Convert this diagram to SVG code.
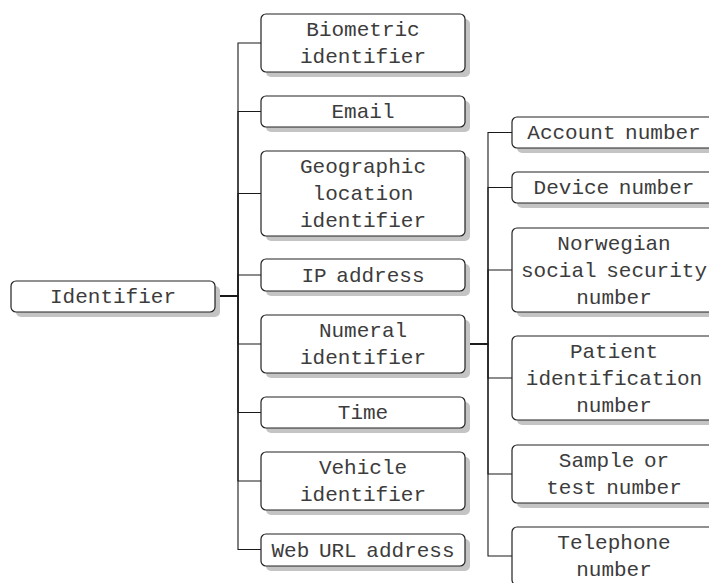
<svg xmlns="http://www.w3.org/2000/svg" width="709" height="583" viewBox="0 0 709 583">
<defs>
<style>
.box{fill:#fff;stroke:#222;stroke-width:1.2}
.sh{fill:#c4c4c4}
.t{font-family:"Liberation Mono","Courier New",monospace;font-size:21px;fill:#3c3c3c;text-anchor:middle;word-spacing:-3px}
.e{fill:none;stroke:#1a1a1a;stroke-width:1.1}
</style>
</defs>
<rect width="709" height="583" fill="#fff"/>
<g id="connectors">
<path class="e" d="M215 296H238V43H261"/>
<path class="e" d="M215 296H238V111.5H261"/>
<path class="e" d="M215 296H238V193.5H261"/>
<path class="e" d="M215 296H238V275H261"/>
<path class="e" d="M215 296H238V344H261"/>
<path class="e" d="M215 296H238V412.5H261"/>
<path class="e" d="M215 296H238V481H261"/>
<path class="e" d="M215 296H238V549.5H261"/>
<path class="e" d="M465 344H488V132.5H512"/>
<path class="e" d="M465 344H488V187.5H512"/>
<path class="e" d="M465 344H488V270H512"/>
<path class="e" d="M465 344H488V378H512"/>
<path class="e" d="M465 344H488V474H512"/>
<path class="e" d="M465 344H488V556H512"/>
</g>
<g id="identifier"><rect class="sh" x="16" y="286" width="204" height="31" rx="5"/><rect class="box" x="11" y="281" width="204" height="31" rx="5"/><text class="t" x="113" y="303">Identifier</text></g>
<g id="biometric"><rect class="sh" x="266" y="19" width="204" height="58" rx="5"/><rect class="box" x="261" y="14" width="204" height="58" rx="5"/><text class="t" x="363" y="36">Biometric</text><text class="t" x="363" y="63">identifier</text></g>
<g id="email"><rect class="sh" x="266" y="101" width="204" height="31" rx="5"/><rect class="box" x="261" y="96" width="204" height="31" rx="5"/><text class="t" x="363" y="118">Email</text></g>
<g id="geographic"><rect class="sh" x="266" y="156" width="204" height="85" rx="5"/><rect class="box" x="261" y="151" width="204" height="85" rx="5"/><text class="t" x="363" y="173">Geographic</text><text class="t" x="363" y="200">location</text><text class="t" x="363" y="227">identifier</text></g>
<g id="ip"><rect class="sh" x="266" y="264" width="204" height="32" rx="5"/><rect class="box" x="261" y="259" width="204" height="32" rx="5"/><text class="t" x="363" y="281.5">IP address</text></g>
<g id="numeral"><rect class="sh" x="266" y="320" width="204" height="58" rx="5"/><rect class="box" x="261" y="315" width="204" height="58" rx="5"/><text class="t" x="363" y="337">Numeral</text><text class="t" x="363" y="364">identifier</text></g>
<g id="time"><rect class="sh" x="266" y="402" width="204" height="31" rx="5"/><rect class="box" x="261" y="397" width="204" height="31" rx="5"/><text class="t" x="363" y="419">Time</text></g>
<g id="vehicle"><rect class="sh" x="266" y="457" width="204" height="58" rx="5"/><rect class="box" x="261" y="452" width="204" height="58" rx="5"/><text class="t" x="363" y="474">Vehicle</text><text class="t" x="363" y="501">identifier</text></g>
<g id="weburl"><rect class="sh" x="266" y="539" width="204" height="32" rx="5"/><rect class="box" x="261" y="534" width="204" height="32" rx="5"/><text class="t" x="363" y="556.5">Web URL address</text></g>
<g id="account"><rect class="sh" x="517" y="122" width="204" height="31" rx="5"/><rect class="box" x="512" y="117" width="204" height="31" rx="5"/><text class="t" x="614" y="139">Account number</text></g>
<g id="device"><rect class="sh" x="517" y="177" width="204" height="31" rx="5"/><rect class="box" x="512" y="172" width="204" height="31" rx="5"/><text class="t" x="614" y="194">Device number</text></g>
<g id="norwegian"><rect class="sh" x="517" y="233" width="204" height="84" rx="5"/><rect class="box" x="512" y="228" width="204" height="84" rx="5"/><text class="t" x="614" y="249.5">Norwegian</text><text class="t" x="614" y="276.5">social security</text><text class="t" x="614" y="303.5">number</text></g>
<g id="patient"><rect class="sh" x="517" y="341" width="204" height="84" rx="5"/><rect class="box" x="512" y="336" width="204" height="84" rx="5"/><text class="t" x="614" y="357.5">Patient</text><text class="t" x="614" y="384.5">identification</text><text class="t" x="614" y="411.5">number</text></g>
<g id="sample"><rect class="sh" x="517" y="450" width="204" height="58" rx="5"/><rect class="box" x="512" y="445" width="204" height="58" rx="5"/><text class="t" x="614" y="467">Sample or</text><text class="t" x="614" y="494">test number</text></g>
<g id="telephone"><rect class="sh" x="517" y="532" width="204" height="58" rx="5"/><rect class="box" x="512" y="527" width="204" height="58" rx="5"/><text class="t" x="614" y="549">Telephone</text><text class="t" x="614" y="576">number</text></g>
</svg>
